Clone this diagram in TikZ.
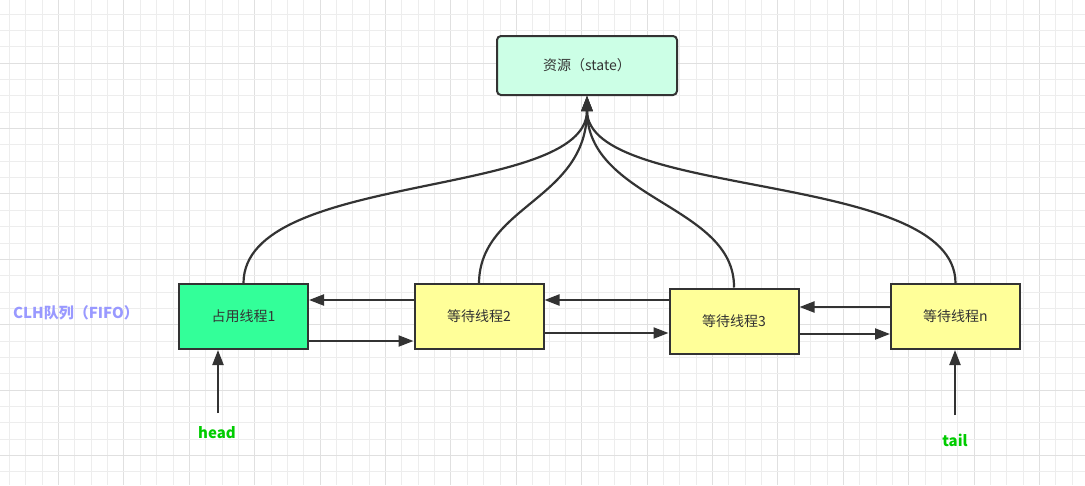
\documentclass[tikz,border=0pt]{standalone}
\usepackage{fontspec}
\setmainfont{Noto Sans CJK SC}
\usetikzlibrary{arrows.meta}
\definecolor{ln}{HTML}{333333}
\definecolor{mint}{HTML}{CCFFE6}
\definecolor{grn}{HTML}{33FF99}
\definecolor{yel}{HTML}{FFFF99}
\definecolor{lav}{HTML}{9999FF}
\definecolor{lblgreen}{HTML}{00CC00}
\definecolor{gridminor}{HTML}{EDEDED}
\definecolor{gridmajor}{HTML}{E0E0E0}
\begin{document}
\begin{tikzpicture}[x=1pt,y=-1pt,
  box/.style={draw=ln, line width=2pt, minimum width=129pt, minimum height=65pt, inner sep=0pt,
              font=\fontsize{14}{16}\selectfont, text=ln},
  conn/.style={draw=ln, line width=2.2pt, -{Triangle[length=15pt,width=11pt]}},
  lbl/.style={font=\fontsize{15}{17}\selectfont\bfseries}]
\useasboundingbox (0,0) rectangle (1085,485);
\fill[white] (0,0) rectangle (1085,485);
% grid
\foreach \i in {0,...,66}{
  \pgfmathsetmacro{\xx}{9.4+16.35*\i}
  \pgfmathtruncatemacro{\m}{mod(\i,4)}
  \ifnum\m=3 \draw[gridmajor, line width=0.8pt] (\xx,0) -- (\xx,485);
  \else \draw[gridminor, line width=0.8pt] (\xx,0) -- (\xx,485); \fi
}
\foreach \i in {0,...,29}{
  \pgfmathsetmacro{\yy}{14+16.35*\i}
  \pgfmathtruncatemacro{\m}{mod(\i,4)}
  \ifnum\m=3 \draw[gridmajor, line width=0.8pt] (0,\yy) -- (1085,\yy);
  \else \draw[gridminor, line width=0.8pt] (0,\yy) -- (1085,\yy); \fi
}
% nodes
\node[box, fill=mint, rounded corners=4pt, minimum width=180pt, minimum height=59pt] (state) at (587,65.5) {资源（state）};
\node[box, fill=grn] (n1) at (243.5,316.5) {占用线程1};
\node[box, fill=yel] (n2) at (479,316.5) {等待线程2};
\node[box, fill=yel] (n3) at (734,321) {等待线程3};
\node[box, fill=yel] (nn) at (955.5,316.5) {等待线程n};
% curves
\draw[conn] (n1.north) .. controls (244,170) and (587,200) .. (state.south);
\draw[conn] (n2.north) .. controls (480,205) and (587,200) .. (state.south);
\draw[conn] (n3.north) .. controls (735,205) and (587,200) .. (state.south);
\draw[conn] (nn.north) .. controls (955,170) and (587,200) .. (state.south);
% horizontal links
\draw[conn] (n2.west |- 0,300) -- (n1.east |- 0,300);
\draw[conn] (n1.east |- 0,341) -- (n2.west |- 0,341);
\draw[conn] (n3.west |- 0,300) -- (n2.east |- 0,300);
\draw[conn] (n2.east |- 0,333) -- (n3.west |- 0,333);
\draw[conn] (nn.west |- 0,307) -- (n3.east |- 0,307);
\draw[conn] (n3.east |- 0,334) -- (nn.west |- 0,334);
% labels
\node[lbl, text=lav] (clh) at (76,313) {CLH队列（FIFO）};
\node[lbl, text=lblgreen] (head) at (217,433) {head};
\node[lbl, text=lblgreen] (tail) at (955,440) {tail};
\coordinate (hs) at (218,413);
\coordinate (ts) at (955,415);
\draw[conn] (hs) -- (hs |- n1.south);
\draw[conn] (ts) -- (ts |- nn.south);
\end{tikzpicture}
\end{document}
